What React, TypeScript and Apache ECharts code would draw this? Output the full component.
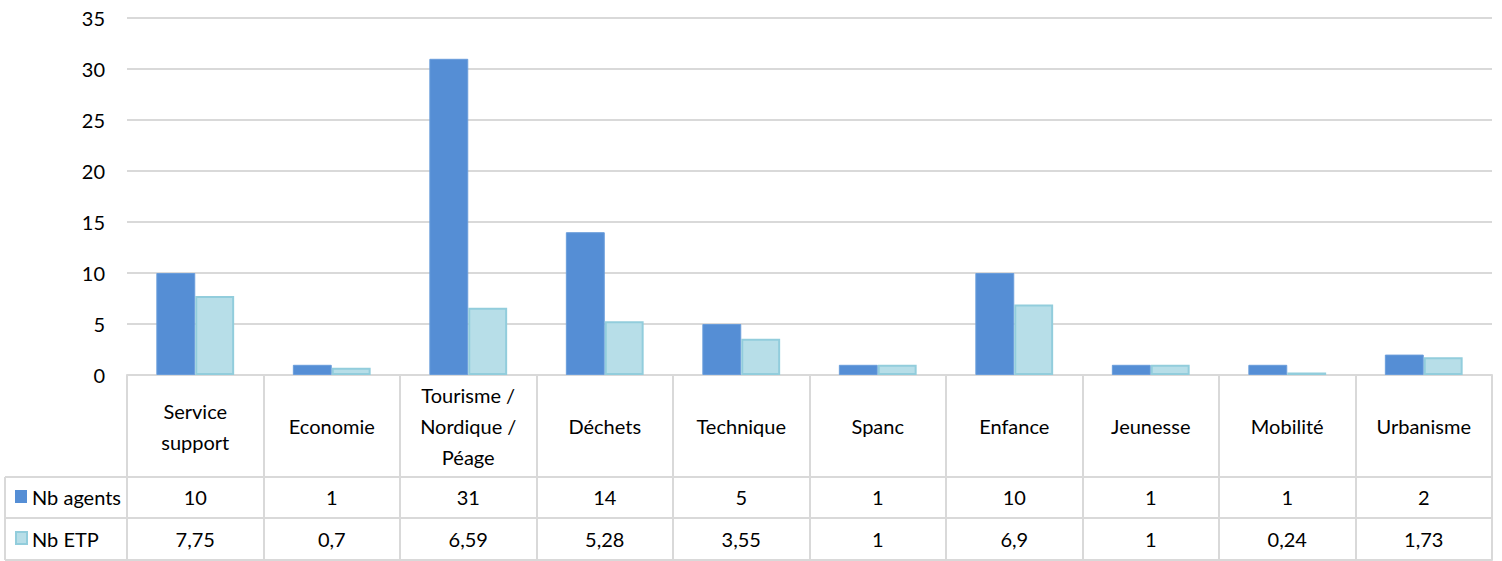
import React, { useEffect, useRef } from "react";
import * as echarts from "echarts";

const categories = [
  "Service\nsupport",
  "Economie",
  "Tourisme /\nNordique /\nPéage",
  "Déchets",
  "Technique",
  "Spanc",
  "Enfance",
  "Jeunesse",
  "Mobilité",
  "Urbanisme",
];
const seriesNames = ["Nb agents", "Nb ETP"];
const nbAgents = [10, 1, 31, 14, 5, 1, 10, 1, 1, 2];
const nbETP = [7.75, 0.7, 6.59, 5.28, 3.55, 1, 6.9, 1, 0.24, 1.73];
const yTicks = { min: 0, max: 35, interval: 5 };

const fmt = (v: number) => String(v).replace(".", ",");

const FONT = "Lato, 'Liberation Sans', sans-serif";
const GRIDC = "#D9D9D9";
const DARK = "#558ED5";
const LIGHT = "#B7DEE8";
const LIGHT_BORDER = "#92CDDC";
const FS = 20;

export default function App() {
  const ref = useRef<HTMLDivElement>(null);
  useEffect(() => {
    const chart = echarts.init(ref.current!, null, { renderer: "svg" });
    const top = 18;
    const plotBottom = 375;
    const H = 561;
    const left = 127;
    const right = 10;
    const rowA = 477;
    const rowB = 518;
    const rowC = 560;
    const tableLeft = 5;
    const baseLabel = { fontFamily: FONT, fontSize: FS, color: "#000" };
    const hiddenAxisCommon = {
      type: "category" as const,
      position: "bottom" as const,
      axisTick: { show: false },
      splitLine: { show: false },
    };
    chart.setOption({
      animation: false,
      textStyle: { fontFamily: FONT },
      grid: { left, right, top, bottom: H - plotBottom, containLabel: false },
      yAxis: {
        type: "value",
        min: yTicks.min,
        max: yTicks.max,
        interval: yTicks.interval,
        axisLine: { show: false },
        axisTick: { show: false },
        axisLabel: { ...baseLabel, margin: 22 },
        splitLine: { lineStyle: { color: GRIDC, width: 2 } },
      },
      xAxis: [
        {
          type: "category",
          data: categories,
          position: "bottom",
          axisLine: { lineStyle: { color: GRIDC, width: 2 } },
          axisTick: { show: true, length: rowC - plotBottom, inside: false, lineStyle: { color: GRIDC, width: 2 } },
          axisLabel: {
            ...baseLabel,
            interval: 0,
            margin: 51,
            verticalAlign: "middle",
            lineHeight: 31,
          },
        },
        {
          ...hiddenAxisCommon,
          data: nbAgents.map(fmt),
          offset: rowA - plotBottom,
          axisLine: { lineStyle: { color: GRIDC, width: 2 } },
          axisLabel: { ...baseLabel, interval: 0, margin: 20, verticalAlign: "middle" },
        },
        {
          ...hiddenAxisCommon,
          data: nbETP.map(fmt),
          offset: rowB - plotBottom,
          axisLine: { lineStyle: { color: GRIDC, width: 2 } },
          axisLabel: { ...baseLabel, interval: 0, margin: 21, verticalAlign: "middle" },
        },
        {
          ...hiddenAxisCommon,
          data: categories.map(() => ""),
          offset: rowC - plotBottom,
          axisLine: { lineStyle: { color: GRIDC, width: 2 } },
          axisLabel: { show: false },
        },
      ],
      series: [
        {
          name: seriesNames[0],
          type: "bar",
          data: nbAgents,
          barGap: "0%",
          barCategoryGap: "43%",
          itemStyle: { color: DARK, borderColor: "#6A9DDB", borderWidth: 1 },
        },
        {
          name: seriesNames[1],
          type: "bar",
          data: nbETP,
          itemStyle: { color: LIGHT, borderColor: LIGHT_BORDER, borderWidth: 2 },
        },
      ],
      graphic: [
        { type: "line", shape: { x1: tableLeft, y1: rowA, x2: left, y2: rowA }, style: { stroke: GRIDC, lineWidth: 2 } },
        { type: "line", shape: { x1: tableLeft, y1: rowB, x2: left, y2: rowB }, style: { stroke: GRIDC, lineWidth: 2 } },
        { type: "line", shape: { x1: tableLeft, y1: rowC, x2: left, y2: rowC }, style: { stroke: GRIDC, lineWidth: 2 } },
        { type: "line", shape: { x1: tableLeft, y1: rowA, x2: tableLeft, y2: rowC }, style: { stroke: GRIDC, lineWidth: 2 } },
        { type: "rect", shape: { x: 15, y: 490, width: 12, height: 13 }, style: { fill: DARK } },
        { type: "rect", shape: { x: 16, y: 532, width: 11, height: 12 }, style: { fill: LIGHT, stroke: LIGHT_BORDER, lineWidth: 2 } },
        {
          type: "text",
          x: 32,
          y: 497,
          style: { text: seriesNames[0], font: `${FS}px ${FONT}`, fill: "#000", verticalAlign: "middle" },
        },
        {
          type: "text",
          x: 32,
          y: 539,
          style: { text: seriesNames[1], font: `${FS}px ${FONT}`, fill: "#000", verticalAlign: "middle" },
        },
      ],
    });
    return () => chart.dispose();
  }, []);
  return <div ref={ref} style={{ width: 1502, height: 561, position: "absolute", left: 0, top: 0 }} />;
}
